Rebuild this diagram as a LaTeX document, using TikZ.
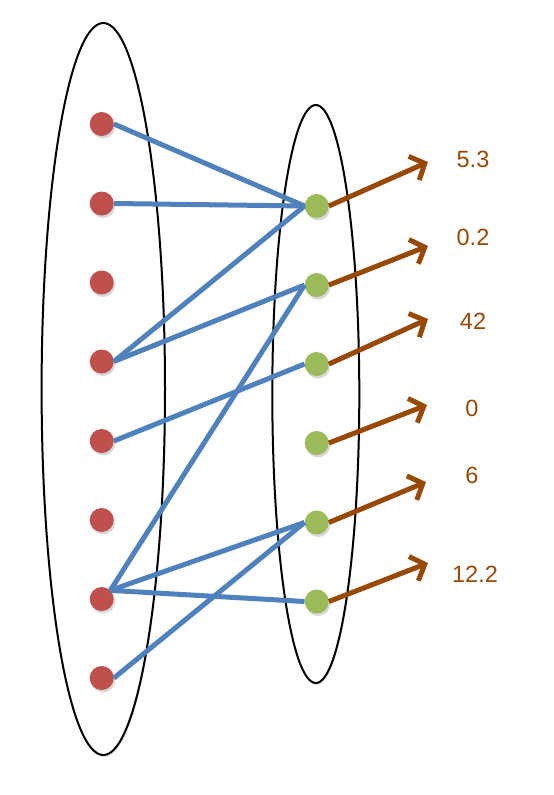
\documentclass[tikz,border=0pt]{standalone}
\usepackage{fontspec}
\setmainfont{Liberation Sans}
\usetikzlibrary{arrows.meta,shadows}
\definecolor{dotred}{HTML}{C0504D}
\definecolor{dotgreen}{HTML}{9BBB59}
\definecolor{edgeblue}{HTML}{4F81BD}
\definecolor{arrbrown}{HTML}{984807}
\tikzset{
  setshape/.style={draw=black, line width=2pt, fill=white,
    drop shadow={shadow xshift=1pt, shadow yshift=-2pt, opacity=0.25}},
  dotbase/.style={circle, inner sep=0pt, minimum size=24pt,
    drop shadow={shadow xshift=1.5pt, shadow yshift=-2.5pt, opacity=0.3}},
  reddot/.style={dotbase, fill=dotred},
  greendot/.style={dotbase, fill=dotgreen},
  edge/.style={draw=edgeblue, line width=5pt},
  outarrow/.style={draw=arrbrown, line width=5pt,
    -{Straight Barb[length=12pt,width=26pt,line width=5pt]}},
  vallabel/.style={text=arrbrown, font=\fontsize{23.5}{28}\selectfont, inner sep=0pt}
}
\begin{document}
\begin{tikzpicture}[x=1pt,y=-1pt]
\useasboundingbox (0,0) rectangle (554,795);
% sets
\draw[setshape] (103.3,389) ellipse [x radius=61.7, y radius=366];
\draw[setshape] (315.8,394) ellipse [x radius=43.5, y radius=289];
% red dots
\node[reddot] (r1) at (101.7,124) {};
\node[reddot] (r2) at (101.7,203.5) {};
\node[reddot] (r3) at (101.7,282.5) {};
\node[reddot] (r4) at (101.7,361.5) {};
\node[reddot] (r5) at (101.7,441) {};
\node[reddot] (r6) at (101.7,520) {};
\node[reddot] (r7) at (101.7,599) {};
\node[reddot] (r8) at (101.7,678) {};
% green dots
\node[greendot] (g1) at (316.7,206) {};
\node[greendot] (g2) at (316.7,285) {};
\node[greendot] (g3) at (316.7,364) {};
\node[greendot] (g4) at (316.7,443) {};
\node[greendot] (g5) at (316.7,522.5) {};
\node[greendot] (g6) at (316.7,601.5) {};
% blue edges
\draw[edge] (r1.east) -- (g1.west);
\draw[edge] (r2.east) -- (g1.west);
\draw[edge] (r4.east) -- (g1.west);
\draw[edge] (r4.east) -- (g2.west);
\draw[edge] (r5.east) -- (g3.west);
\draw[edge] (r7.north east) -- (g2.west);
\draw[edge] (r7.north east) -- (g5.west);
\draw[edge] (r7.north east) -- (g6.west);
\draw[edge] (r8.east) -- (g5.west);
% arrow tips
\coordinate (t1) at (428,162);
\coordinate (t2) at (428,246);
\coordinate (t3) at (428,319);
\coordinate (t4) at (427,405);
\coordinate (t5) at (426,482);
\coordinate (t6) at (428,563);
\draw[outarrow] (g1.east) -- (t1);
\draw[outarrow] (g2.east) -- (t2);
\draw[outarrow] (g3.east) -- (t3);
\draw[outarrow] (g4.east) -- (t4);
\draw[outarrow] (g5.east) -- (t5);
\draw[outarrow] (g6.east) -- (t6);
% labels
\node[vallabel] (l1) at (473,159) {5.3};
\node[vallabel] (l2) at (473,237) {0.2};
\node[vallabel] (l3) at (473,321) {42};
\node[vallabel] (l4) at (472,408) {0};
\node[vallabel] (l5) at (472,475) {6};
\node[vallabel] (l6) at (475,574) {12.2};
\end{tikzpicture}
\end{document}
